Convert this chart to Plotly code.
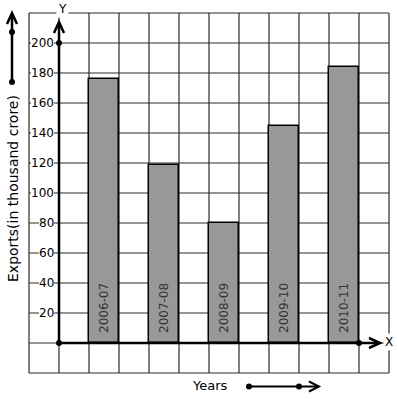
import plotly.graph_objects as go

# ---- data ----
categories = ["2006-07", "2007-08", "2008-09", "2009-10", "2010-11"]
exports = [176, 119, 80, 145, 184]
tick_values = [20, 40, 60, 80, 100, 120, 140, 160, 180, 200]
tick_labels = ["20", "40", "60", "80", "100", "120", "140", "160", "180", "200"]
y_title = "Exports(in thousand crore)"
x_title = "Years"

# ---- pixel <-> data helpers (layout only) ----
W, H = 397, 399
X0, Y0 = 59, 343      # origin in pixels
CELL = 30             # one grid cell = 30 px
VPX = 1.5             # px per value unit


def fx(px):
    return (px - X0) / CELL


def fy(py):
    return (Y0 - py) / VPX


FONT = "DejaVu Sans"
shapes = []

# grid (rectangle of cells)
for u in range(-1, 12):
    shapes.append(dict(type="line", xref="x", yref="y", x0=u, x1=u, y0=-20, y1=220,
                       line=dict(color="#2a2a2a", width=1.2), layer="below"))
for v in range(-20, 221, 20):
    shapes.append(dict(type="line", xref="x", yref="y", x0=-1, x1=11, y0=v, y1=v,
                       line=dict(color="#2a2a2a", width=1.2), layer="below"))


def path(points):
    return "M" + " L".join(f"{fx(a)},{fy(b)}" for a, b in points)


def arrow_line(pts, w):
    shapes.append(dict(type="path", xref="x", yref="y", path=path(pts),
                       line=dict(color="black", width=w), layer="above"))


# y axis with arrow
arrow_line([(59, 343), (59, 23)], 2.5)
arrow_line([(54, 33), (59, 22), (64, 33)], 2.5)
# x axis with arrow
arrow_line([(59, 343), (380, 343)], 2.5)
arrow_line([(369, 338), (380, 343), (369, 348)], 2.5)
# decorative left arrow
arrow_line([(12, 82), (12, 14)], 2.5)
arrow_line([(7, 24), (12, 13), (17, 24)], 2.5)
# decorative bottom arrow
arrow_line([(249, 386.5), (318, 386.5)], 2)
arrow_line([(309, 381.5), (319, 386.5), (309, 391.5)], 2)

fig = go.Figure()

fig.add_trace(go.Bar(
    x=[1.5 + 2 * i for i in range(len(categories))],
    y=exports,
    width=1,
    marker=dict(color="#989898", line=dict(color="black", width=1.5)),
    hoverinfo="skip",
))

dots = [(59, 43), (59, 343), (359, 343), (12, 32), (12, 82), (249, 386.5), (299, 386.5)]
fig.add_trace(go.Scatter(
    x=[fx(a) for a, b in dots], y=[fy(b) for a, b in dots], mode="markers",
    marker=dict(color="black", size=6), hoverinfo="skip",
))

annotations = []
for v, lab in zip(tick_values, tick_labels):
    annotations.append(dict(x=fx(53.5), y=v, xref="x", yref="y", text=lab, showarrow=False,
                            xanchor="right", yanchor="middle", bgcolor="white",
                            borderpad=0, borderwidth=0,
                            font=dict(family=FONT, size=12, color="black")))

for i, c in enumerate(categories):
    annotations.append(dict(x=1.5 + 2 * i, y=fy(333), xref="x", yref="y", text=c,
                            showarrow=False, textangle=-90, xanchor="center", yanchor="bottom",
                            borderpad=0, borderwidth=0,
                            font=dict(family=FONT, size=12, color="#333333")))

annotations.append(dict(x=fx(62), y=fy(9), xref="x", yref="y", text="Y", showarrow=False,
                        bgcolor="white", xanchor="center", yanchor="middle",
                        font=dict(family=FONT, size=12, color="black")))
annotations.append(dict(x=fx(389), y=fy(342), xref="x", yref="y", text="X", showarrow=False,
                        bgcolor="white", xanchor="center", yanchor="middle",
                        font=dict(family=FONT, size=12, color="black")))
annotations.append(dict(x=fx(13), y=fy(189), xref="x", yref="y", text=y_title, showarrow=False,
                        textangle=-90, xanchor="center", yanchor="middle",
                        font=dict(family=FONT, size=14, color="black")))
annotations.append(dict(x=fx(210), y=fy(385), xref="x", yref="y", text=x_title, showarrow=False,
                        xanchor="center", yanchor="middle",
                        font=dict(family=FONT, size=13, color="black")))

fig.update_layout(
    width=W, height=H,
    margin=dict(l=0, r=0, t=0, b=0),
    paper_bgcolor="white", plot_bgcolor="white",
    showlegend=False,
    xaxis=dict(range=[fx(0), fx(W)], visible=False, fixedrange=True),
    yaxis=dict(range=[fy(H), fy(0)], visible=False, fixedrange=True),
    shapes=shapes,
    annotations=annotations,
    bargap=0,
)

fig.write_html("out.html", config={"displayModeBar": False},
               post_script="document.body.style.margin='0px';document.body.style.overflow='hidden';")
